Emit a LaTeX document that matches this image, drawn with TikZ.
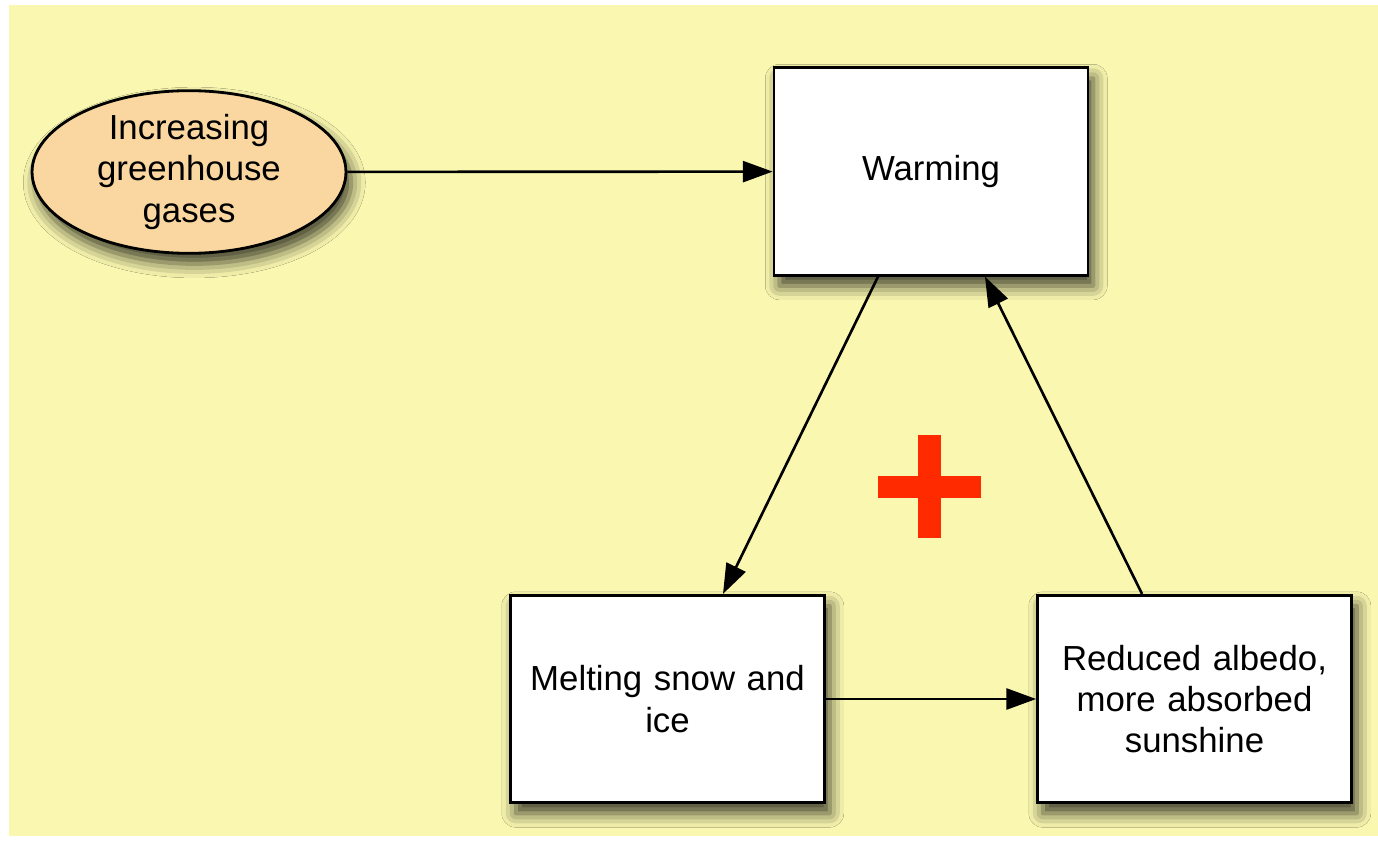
\documentclass[tikz,border=0pt]{standalone}
\usepackage{fontspec}
\setmainfont{Liberation Sans}
\usepackage{tikz}
\usetikzlibrary{arrows.meta,shapes,positioning,shadows,shadows.blur}

\definecolor{bgyellow}{RGB}{250,248,176}
\definecolor{peach}{RGB}{250,215,160}
\definecolor{plusred}{RGB}{255,42,0}

\tikzset{
  box/.style={rectangle,draw=black,fill=white,line width=1.6pt,
    minimum width=6.28cm,minimum height=4.15cm,align=center,text width=5.6cm,
    blur shadow={shadow xshift=3pt,shadow yshift=-6pt,shadow blur radius=8pt,shadow opacity=75}},
  cause/.style={ellipse,draw=black,fill=peach,line width=1.6pt,
    minimum width=6.28cm,minimum height=3.05cm,align=center,inner sep=0pt,
    blur shadow={shadow xshift=3pt,shadow yshift=-6pt,shadow blur radius=8pt,shadow opacity=75}},
  link/.style={-{Triangle[length=17pt,width=12pt]},line width=1.5pt}
}

\begin{document}
\begin{tikzpicture}[x=0.02cm,y=-0.02cm,font=\fontsize{19.8}{23.5}\selectfont]
  \useasboundingbox (0,0) rectangle (1378,841);
  \fill[white] (0,0) rectangle (1378,841);
  \fill[bgyellow] (9,5) rectangle (1378,836);

  \node[cause] (ghg) at (189,172) {Increasing\\greenhouse\\gases};
  \node[box] (warm) at (931,171.5) {Warming};
  \node[box] (melt) at (667.5,699) {Melting snow and\\ice};
  \node[box] (albedo) at (1194.5,699) {Reduced albedo,\\more absorbed\\sunshine};

  % positive loop
  \fill[plusred] (878,476) rectangle (981,498);
  \fill[plusred] (918,435) rectangle (941,538);

  \path[link]
    (ghg) edge (warm)
    ([xshift=-1.06cm]warm.south) edge ([xshift=1.11cm]melt.north)
    (melt) edge (albedo)
    ([xshift=-1.05cm]albedo.north) edge ([xshift=1.08cm]warm.south);
\end{tikzpicture}
\end{document}
